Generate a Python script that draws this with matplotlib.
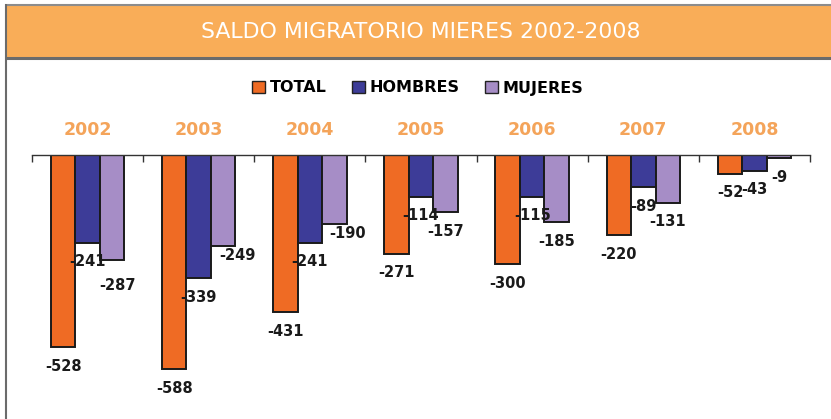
import numpy as np
import matplotlib
matplotlib.use("Agg")
import matplotlib.pyplot as plt
from matplotlib.patches import Rectangle, Patch

# data
years = ["2002", "2003", "2004", "2005", "2006", "2007", "2008"]
total = [-528, -588, -431, -271, -300, -220, -52]
hombres = [-241, -339, -241, -114, -115, -89, -43]
mujeres = [-287, -249, -190, -157, -185, -131, -9]
series_names = ["TOTAL", "HOMBRES", "MUJERES"]
colors = ["#EF6B24", "#3D3C98", "#A68DC6"]

# a few labels were moved by hand in the original (pixel offsets)
label_nudge = {(2, 0): (5, -26), (2, 1): (14, -10), (2, 2): (13, -9)}

W, H = 831, 419
fig = plt.figure(figsize=(W / 100, H / 100), dpi=100)

# background frame + header band (pixel coordinates)
bg = fig.add_axes([0, 0, 1, 1])
bg.set_xlim(0, W)
bg.set_ylim(H, 0)
bg.axis("off")
bg.add_patch(Rectangle((5, 4), W - 5, 55, facecolor="#F9AD58", edgecolor="none"))
bg.plot([5, W], [5, 5], color="#8c8c8c", lw=1.5, solid_capstyle="butt")
bg.plot([5, W], [58.5, 58.5], color="#6b6b6b", lw=2.2, solid_capstyle="butt")
bg.plot([6, 6], [4, H], color="#6b6b6b", lw=1.5, solid_capstyle="butt")
bg.text(421, 32, "SALDO MIGRATORIO MIERES 2002-2008", color="white",
        fontsize=15.8, ha="center", va="center")

# main chart, zero line at y=155 px, 0.364 px per unit
top_px, bot_px, left_px, right_px = 155, 410, 32, 810
ax = fig.add_axes([left_px / W, (H - bot_px) / H,
                   (right_px - left_px) / W, (bot_px - top_px) / H])
ax.patch.set_alpha(0)
x = np.arange(len(years))
bw = 0.22
for k, (vals, c) in enumerate(zip([total, hombres, mujeres], colors)):
    pos = x + (k - 1) * bw
    ax.bar(pos, vals, width=bw, color=c, edgecolor="#1a1a1a", linewidth=1.4)
    for i, (xi, v) in enumerate(zip(pos, vals)):
        off = label_nudge.get((k, i), (0, -19))
        ax.annotate(str(v), xy=(xi, v), xytext=off, textcoords="offset pixels",
                    ha="center", va="center", fontsize=10.5, fontweight="bold",
                    color="#1a1a1a", annotation_clip=False)

for xi, yr in zip(x, years):
    ax.annotate(yr, xy=(xi, 0), xytext=(0, 25), textcoords="offset pixels",
                ha="center", va="center", fontsize=12.5, fontweight="bold",
                color="#F4A45A", annotation_clip=False)

ax.set_xlim(-0.5, len(years) - 0.5)
ax.set_ylim(-700, 0)
for s in ["left", "right", "bottom"]:
    ax.spines[s].set_visible(False)
ax.spines["top"].set_color("#333333")
ax.spines["top"].set_linewidth(1.0)
ax.xaxis.tick_top()
ax.set_xticks(np.arange(-0.5, len(years), 1))
ax.tick_params(axis="x", direction="in", length=5, width=1, color="#333333",
               labeltop=False, labelbottom=False)
ax.set_yticks([])

handles = [Patch(facecolor=c, edgecolor="#222222", linewidth=1) for c in colors]
fig.legend(handles, series_names, loc="center", bbox_to_anchor=(418 / W, 1 - 88 / H),
           ncol=3, frameon=False, prop={"weight": "bold", "size": 11.5},
           handlelength=0.8, handleheight=0.8, handletextpad=0.3, columnspacing=1.6)

fig.savefig("out.png", dpi=100)
